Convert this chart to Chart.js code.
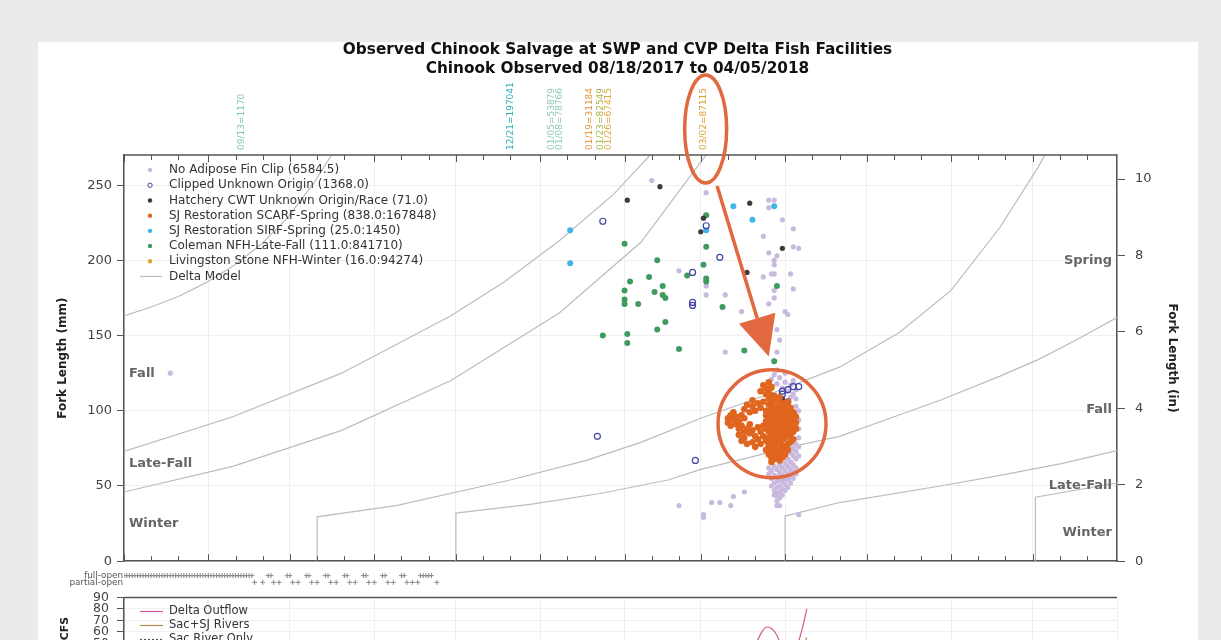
<!DOCTYPE html>
<html>
<head>
<meta charset="utf-8">
<script src="https://cdn.jsdelivr.net/npm/chart.js@4.4.1/dist/chart.umd.min.js"></script>
<style>
  html, body { margin: 0; padding: 0; width: 1221px; height: 640px; overflow: hidden; background: #ebebeb; }
  #card { position: absolute; left: 38px; top: 42px; width: 1160px; height: 700px; background: #ffffff; }
  canvas { position: absolute; left: 0; }
  #salvage { top: 0; }
  #gates { top: 566px; }
  #flows { top: 582px; }
</style>
</head>
<body>
<div id="card"></div>
<canvas id="salvage" width="1221" height="579"></canvas>
<canvas id="gates" width="1221" height="26"></canvas>
<canvas id="flows" width="1221" height="134"></canvas>
<script>
// x values are days since 08/01/2017; fork lengths in mm.
const FONT = "'DejaVu Sans', Verdana, sans-serif";
const monthStartDays = [0, 31, 61, 92, 122, 153, 184, 212, 243, 273, 304, 334, 365];
const forkLengthTicksMm = [0, 50, 100, 150, 200, 250];
const forkLengthTicksIn = [0, 2, 4, 6, 8, 10];
const flowTicks = [0, 10, 20, 30, 40, 50, 60, 70, 80, 90];

const seriesLabels = [
  "No Adipose Fin Clip (6584.5)",
  "Clipped Unknown Origin (1368.0)",
  "Hatchery CWT Unknown Origin/Race (71.0)",
  "SJ Restoration SCARF-Spring (838.0:167848)",
  "SJ Restoration SIRF-Spring (25.0:1450)",
  "Coleman NFH-Late-Fall (111.0:841710)",
  "Livingston Stone NFH-Winter (16.0:94274)",
  "Delta Model"
];
const seriesColors = ["#c9b9de", "#4444a6", "#3a3a3a", "#e0651e", "#3db6e6", "#3f9b60", "#e1a42a", "#bcbcbc"];

// [day, fork length mm]
const noAdiposeFinClip = [
  [17,125],
  [194,253],[214,245],[204,193],[214,183],[214,177],[221,177],[237,240],[239,240],[237,235],[242,227],
  [246,221],[235,216],[246,209],[248,208],[237,205],[240,203],[239,200],[239,197],[235,189],[238,191],
  [239,191],[245,191],[246,181],[239,180],[237,171],[239,175],[243,166],[244,164],[227,166],[221,139],
  [240,154],[241,147],[240,139],
  [204,37],[213,31],[213,29],[216,39],[219,39],[223,37],[224,43],[228,46],[240,43],[240,37],[241,37],[248,31],
  [238,121],[239,124],[240,118],[241,122],[242,115],[243,119],[244,113],[245,117],[246,111],[240,127],
  [243,125],[245,109],[247,114],[246,120],
  [237,62],[237,58],[238,60],[238,55],[238,50],[239,63],[239,57],[239,52],[239,47],[239,44],
  [240,61],[240,56],[240,53],[240,49],[240,45],[240,40],[241,64],[241,59],[241,54],[241,50],
  [241,46],[241,42],[242,62],[242,57],[242,53],[242,48],[242,44],[243,65],[243,60],[243,55],
  [243,51],[243,47],[244,68],[244,63],[244,58],[244,54],[244,49],[245,72],[245,66],[245,61],
  [245,56],[245,52],[246,75],[246,70],[246,64],[246,59],[246,55],[247,78],[247,73],[247,68],
  [247,62],[247,58],[247,108],[247,103],[248,100],[248,94],[248,88],[248,82],[248,76],[248,70]
];
const clippedUnknownOrigin = [
  [176,226],[214,223],[219,202],[209,192],[209,172],[209,170],[174,83],[210,67],
  [242,113],[244,114],[246,116],[248,116],[242,111],[244,106],[246,98]
];
const hatcheryCwtUnknown = [
  [185,240],[197,249],[213,228],[212,219],[230,238],[242,208],[229,192],[242,108]
];
const scarfSpring = [
  [222,95],[222,92],[223,97],[223,90],[224,94],[224,99],[225,91],[225,96],[226,88],[226,93],
  [227,97],[227,90],[228,95],[228,86],
  [226,84],[227,80],[228,82],[229,88],[229,78],[230,85],[230,91],[231,79],[231,87],[232,83],
  [232,76],[233,89],[233,81],[234,86],[234,78],[235,83],[235,90],
  [228,101],[229,104],[230,99],[231,103],[231,107],[232,100],[233,105],[234,102],[235,106],[236,100],
  [234,113],[235,117],[236,111],[236,115],[237,119],[237,112],[238,116],[238,110],
  [236,97],[236,93],[236,88],[236,80],[236,74],
  [237,108],[237,104],[237,99],[237,95],[237,91],[237,86],[237,82],[237,77],[237,71],
  [238,106],[238,101],[238,97],[238,92],[238,89],[238,84],[238,79],[238,75],[238,69],[238,66],
  [239,110],[239,103],[239,98],[239,94],[239,90],[239,87],[239,81],[239,76],[239,72],[239,68],
  [240,107],[240,102],[240,99],[240,95],[240,91],[240,85],[240,83],[240,78],[240,73],[240,70],
  [241,109],[241,104],[241,100],[241,96],[241,92],[241,88],[241,84],[241,80],[241,74],[241,67],
  [242,105],[242,101],[242,97],[242,93],[242,89],[242,86],[242,81],[242,77],[242,72],[242,69],
  [243,103],[243,99],[243,94],[243,90],[243,85],[243,82],[243,76],[243,71],
  [244,106],[244,100],[244,96],[244,91],[244,87],[244,83],[244,78],[244,74],
  [245,102],[245,97],[245,93],[245,89],[245,84],[245,79],
  [246,99],[246,95],[246,90],[246,86],[246,81],
  [247,96],[247,92],[247,88]
];
const sirfSpring = [
  [164,220],[164,198],[214,220],[224,236],[231,227],[239,236]
];
const colemanLateFall = [
  [184,211],[196,200],[186,186],[193,189],[198,183],[195,179],[198,177],[199,175],[184,180],[184,174],
  [184,171],[189,171],[176,150],[185,151],[185,145],[196,154],[199,159],[204,141],[214,230],[214,209],
  [213,197],[207,190],[214,188],[214,186],[220,169],[240,183],[228,140],[239,133]
];
const livingstonWinter = [
  [238,115]
];

// Delta Model size-at-date boundaries: [day, mm]
const modelResetDec1Early = [[0,163],[10,169],[20,176],[30,185],[40,196],[50,210],[60,228],[70,252],[78,275]];
const modelResetDec1Late = [[122,0],[122,32],[150,38],[175,45],[200,54],[212,61],[230,69],[245,76],[263,83],[280,94],[300,107],[322,123],[336,134],[350,147],[365,162]];
const modelResetApr1Early = [[0,73],[40,96],[80,125],[120,163],[140,186],[160,213],[180,244],[196,275]];
const modelResetApr1Late = [[243,0],[243,30],[263,39],[300,50],[322,57],[345,65],[365,73.5]];
const modelResetJul2Early = [[0,46],[40,63],[80,87],[120,120],[160,165],[190,212],[216,275]];
const modelResetJul2Late = [[335,0],[335,42.5],[365,52]];
const modelResetOct11 = [[71,0],[71,29.5],[100,37],[142,54],[170,67],[190,79],[212,95],[240,113],[263,129],[285,152],[304,180],[322,222],[336,262],[340,275]];

// Release markers above the plot
const releaseText = ["09/13=1170","12/21=197041","01/05=53879","01/08=78766","01/19=31184","01/23=82549","01/26=67415","03/02=87115"];
const releaseDay = [43, 142, 157, 160, 171, 175, 178, 213];
const releaseColor = ["#7cc5ad","#2faabf","#8ccab2","#8ccab2","#e3943f","#a9b545","#e2a63a","#dba02c"];

// Race labels [text, mm]
const raceLabelsLeft = [["Fall",125],["Late-Fall",65],["Winter",25]];
const raceLabelsRight = [["Spring",200],["Fall",100.5],["Late-Fall",50],["Winter",19]];

// Export gate operations (day of gate state)
const gateFullOpenDays = [0,1,2,3,4,5,6,7,8,9,10,11,12,13,14,15,16,17,18,19,20,21,22,23,24,25,26,27,28,29,30,31,32,33,34,35,36,37,38,39,40,41,42,43,44,45,46,47,
  53,54,60,61,67,68,74,75,81,82,88,89,95,96,102,103,109,110,111,112,113];
const gatePartialOpenDays = [48,51,55,57,62,64,69,71,76,78,83,85,90,92,97,99,104,106,108,115];

// Delta flows (1000 CFS)
const flowDays = [0,14,28,42,56,70,84,98,112,126,140,154,168,182,196,210,224,230,234,236,238,240,242,246,249,251];
const deltaOutflow = [8,7,9,10,9,11,12,14,16,21,26,23,19,17,15,14,19,38,58,64,63,57,46,41,60,80];
const sacSjRivers = [12,11,12,13,12,14,15,16,18,22,27,25,21,19,17,16,20,33,44,48,47,44,38,35,45,55];
const sacRiverOnly = [10,9,10,11,10,12,13,14,16,19,24,22,18,16,14,13,17,28,37,40,39,37,32,30,38,46];

const xy = arr => arr.map(p => ({ x: p[0], y: p[1] }));

function dotSet(idx, data, radius, order, extra) {
  return Object.assign({
    label: seriesLabels[idx],
    data: xy(data),
    backgroundColor: seriesColors[idx],
    borderColor: seriesColors[idx],
    borderWidth: 0,
    pointRadius: radius,
    pointHoverRadius: radius,
    showLine: false,
    order: order
  }, extra || {});
}
function modelSet(data) {
  return {
    label: "Delta Model",
    data: xy(data),
    showLine: true,
    borderColor: seriesColors[7],
    borderWidth: 1.2,
    pointRadius: 0,
    tension: 0,
    order: 20
  };
}

const salvageDatasets = [
  dotSet(3, scarfSpring, 3.3, 1),
  dotSet(6, livingstonWinter, 3, 2),
  dotSet(1, clippedUnknownOrigin, 3, 3, { backgroundColor: "rgba(255,255,255,0)", borderWidth: 1.2 }),
  dotSet(2, hatcheryCwtUnknown, 2.6, 4),
  dotSet(4, sirfSpring, 3, 5),
  dotSet(5, colemanLateFall, 3, 6),
  dotSet(0, noAdiposeFinClip, 2.6, 7),
  modelSet(modelResetDec1Early), modelSet(modelResetDec1Late),
  modelSet(modelResetApr1Early), modelSet(modelResetApr1Late),
  modelSet(modelResetJul2Early), modelSet(modelResetJul2Late),
  modelSet(modelResetOct11)
];

const legendOrder = [6, 2, 3, 0, 4, 5, 1]; // dataset index per legend row

const frameColor = "#555555";

const salvageDecor = {
  id: "salvageDecor",
  afterDatasetsDraw(chart) {
    const { ctx, chartArea: a, scales } = chart;
    const x = scales.x, y = scales.y;
    ctx.save();
    // top frame and minor ticks
    ctx.strokeStyle = frameColor;
    ctx.lineWidth = 1.5;
    ctx.beginPath();
    ctx.moveTo(a.left, a.top); ctx.lineTo(a.right, a.top);
    ctx.stroke();
    ctx.lineWidth = 1;
    for (let m = 0; m < monthStartDays.length - 1; m++) {
      [0, 10, 20].forEach(off => {
        const d = monthStartDays[m] + off;
        if (d >= monthStartDays[m + 1]) return;
        const px = Math.round(x.getPixelForValue(d)) + 0.5;
        const len = off === 0 ? 7 : 5;
        ctx.beginPath();
        ctx.moveTo(px, a.bottom); ctx.lineTo(px, a.bottom - len);
        ctx.moveTo(px, a.top); ctx.lineTo(px, a.top + len);
        ctx.stroke();
      });
    }
    // race labels
    ctx.font = "bold 13px " + FONT;
    ctx.fillStyle = "#666";
    ctx.textBaseline = "middle";
    ctx.textAlign = "left";
    raceLabelsLeft.forEach(r => ctx.fillText(r[0], a.left + 5, y.getPixelForValue(r[1])));
    ctx.textAlign = "right";
    raceLabelsRight.forEach(r => ctx.fillText(r[0], a.right - 5, y.getPixelForValue(r[1])));
    // legend
    ctx.font = "12px " + FONT;
    ctx.textAlign = "left";
    const rowH = 15.2;
    const mx = a.left + 26, tx = a.left + 45;
    legendOrder.forEach((di, row) => {
      const ds = chart.data.datasets[di];
      const cy = a.top + 15 + row * rowH;
      ctx.beginPath();
      ctx.arc(mx, cy, 2.2, 0, Math.PI * 2);
      if (ds.borderWidth > 0) {
        ctx.strokeStyle = ds.borderColor; ctx.lineWidth = 1; ctx.stroke();
      } else {
        ctx.fillStyle = ds.backgroundColor; ctx.fill();
      }
      ctx.fillStyle = "#333";
      ctx.fillText(ds.label, tx, cy);
    });
    const ly = a.top + 15 + 7 * rowH;
    ctx.strokeStyle = seriesColors[7];
    ctx.lineWidth = 1.2;
    ctx.beginPath(); ctx.moveTo(a.left + 16, ly); ctx.lineTo(a.left + 38, ly); ctx.stroke();
    ctx.fillStyle = "#333";
    ctx.fillText(seriesLabels[7], tx, ly);
    // release markers
    ctx.font = "9px " + FONT;
    releaseText.forEach((t, i) => {
      ctx.save();
      ctx.translate(x.getPixelForValue(releaseDay[i]) + 3, a.top - 5);
      ctx.rotate(-Math.PI / 2);
      ctx.fillStyle = releaseColor[i];
      ctx.textAlign = "left";
      ctx.textBaseline = "alphabetic";
      ctx.fillText(t, 0, 0);
      ctx.restore();
    });
    ctx.restore();
  },
  afterDraw(chart) {
    // highlight marks: ellipse on the 03/02 marker, arrow, circle round the spring cluster
    const { ctx, chartArea: a, scales } = chart;
    const x = scales.x, y = scales.y;
    ctx.save();
    ctx.strokeStyle = "#e2683f";
    ctx.fillStyle = "#e2683f";
    ctx.lineWidth = 3.5;
    const ex = x.getPixelForValue(213.8);
    ctx.beginPath();
    ctx.ellipse(ex, a.top - 26, 21, 54, 0, 0, Math.PI * 2);
    ctx.stroke();
    const sx = x.getPixelForValue(218), sy = a.top + 31;
    const tipX = x.getPixelForValue(237), tipY = y.getPixelForValue(136);
    const dx = tipX - sx, dy = tipY - sy, L = Math.hypot(dx, dy);
    const ux = dx / L, uy = dy / L;
    const headL = 40, headW = 19;
    const bx = tipX - ux * headL, by = tipY - uy * headL;
    ctx.beginPath(); ctx.moveTo(sx, sy); ctx.lineTo(bx, by); ctx.stroke();
    ctx.beginPath();
    ctx.moveTo(tipX, tipY);
    ctx.lineTo(bx - uy * headW, by + ux * headW);
    ctx.lineTo(bx + uy * headW, by - ux * headW);
    ctx.closePath(); ctx.fill();
    ctx.beginPath();
    ctx.arc(x.getPixelForValue(238.2), y.getPixelForValue(91.3), 54, 0, Math.PI * 2);
    ctx.stroke();
    ctx.restore();
  }
};

new Chart(document.getElementById("salvage"), {
  type: "scatter",
  data: { datasets: salvageDatasets },
  options: {
    responsive: false, animation: false, devicePixelRatio: 1,
    layout: { padding: { left: 53, right: 39, top: 0, bottom: 0 } },
    plugins: {
      legend: { display: false },
      tooltip: { enabled: false },
      title: {
        display: true,
        text: ["Observed Chinook Salvage at SWP and CVP Delta Fish Facilities", "Chinook Observed 08/18/2017 to 04/05/2018"],
        font: { family: FONT, size: 15.3, weight: "bold", lineHeight: 1.24 },
        color: "#111",
        padding: { top: 41, bottom: 76.1 }
      }
    },
    scales: {
      x: {
        type: "linear", min: 0, max: 365, position: "bottom",
        afterBuildTicks: s => { s.ticks = monthStartDays.map(v => ({ value: v })); },
        afterFit: s => { s.height = 5; },
        ticks: { display: false },
        grid: { color: "#efefef", drawTicks: false },
        border: { display: true, color: frameColor, width: 1.5 }
      },
      y: {
        type: "linear", min: 0, max: 270, position: "left",
        afterBuildTicks: s => { s.ticks = forkLengthTicksMm.map(v => ({ value: v })); },
        afterFit: s => { s.width = 71; },
        ticks: { font: { family: FONT, size: 13 }, color: "#444", padding: 5, autoSkip: false },
        grid: { color: "#efefef", tickColor: frameColor, tickLength: 7 },
        border: { display: true, color: frameColor, width: 1.5 },
        title: { display: true, text: "Fork Length (mm)", font: { family: FONT, size: 12, weight: "bold" }, color: "#222", padding: { top: 3, bottom: 0 } }
      },
      y2: {
        type: "linear", min: 0, max: 270 / 25.4, position: "right",
        afterBuildTicks: s => { s.ticks = forkLengthTicksIn.map(v => ({ value: v })); },
        afterFit: s => { s.width = 65; },
        ticks: { font: { family: FONT, size: 13 }, color: "#444", padding: 10, autoSkip: false },
        grid: { drawOnChartArea: false, tickColor: frameColor, tickLength: 8 },
        border: { display: true, color: frameColor, width: 1.5 },
        title: { display: true, text: "Fork Length (in)", font: { family: FONT, size: 12, weight: "bold" }, color: "#222", padding: { top: 3, bottom: 0 } }
      }
    }
  },
  plugins: [salvageDecor]
});

new Chart(document.getElementById("gates"), {
  type: "scatter",
  data: {
    datasets: [
      { label: "full-open", data: gateFullOpenDays.map(d => ({ x: d, y: 1 })), pointStyle: "cross", pointRadius: 2.5, borderColor: "#8a8a8a", borderWidth: 1 },
      { label: "partial-open", data: gatePartialOpenDays.map(d => ({ x: d, y: 0 })), pointStyle: "cross", pointRadius: 2.5, borderColor: "#8a8a8a", borderWidth: 1 }
    ]
  },
  options: {
    responsive: false, animation: false, devicePixelRatio: 1,
    layout: { padding: { left: 0, right: 104, top: 5, bottom: 5 } },
    plugins: { legend: { display: false }, tooltip: { enabled: false } },
    scales: {
      x: { type: "linear", min: 0, max: 365, display: false },
      y: {
        type: "linear", min: -0.5, max: 1.5,
        afterBuildTicks: s => { s.ticks = [{ value: 0 }, { value: 1 }]; },
        afterFit: s => { s.width = 124; },
        ticks: { font: { family: FONT, size: 8.8 }, color: "#555", padding: 1, autoSkip: false, callback: v => (v === 1 ? "full-open" : "partial-open") },
        grid: { display: false, drawTicks: false },
        border: { display: false }
      }
    }
  }
});

const flowLegend = {
  id: "flowLegend",
  afterDraw(chart) {
    const { ctx, chartArea: a } = chart;
    ctx.save();
    ctx.strokeStyle = frameColor; ctx.lineWidth = 1.5;
    ctx.beginPath(); ctx.moveTo(a.left, a.top); ctx.lineTo(a.right, a.top); ctx.stroke();
    ctx.font = "11.5px " + FONT;
    ctx.textBaseline = "middle";
    chart.data.datasets.forEach((ds, i) => {
      const cy = a.top + 14 + i * 14;
      ctx.strokeStyle = ds.borderColor; ctx.lineWidth = 1.2;
      ctx.setLineDash(ds.borderDash || []);
      ctx.beginPath(); ctx.moveTo(a.left + 16, cy); ctx.lineTo(a.left + 39, cy); ctx.stroke();
      ctx.setLineDash([]);
      ctx.fillStyle = "#333";
      ctx.fillText(ds.label, a.left + 45, cy);
    });
    ctx.restore();
  }
};

new Chart(document.getElementById("flows"), {
  type: "line",
  data: {
    datasets: [
      { label: "Delta Outflow", data: flowDays.map((d, i) => ({ x: d, y: deltaOutflow[i] })), borderColor: "#cf5a96", borderWidth: 1.2, pointRadius: 0, tension: 0.3 },
      { label: "Sac+SJ Rivers", data: flowDays.map((d, i) => ({ x: d, y: sacSjRivers[i] })), borderColor: "#b08a55", borderWidth: 1.2, pointRadius: 0, tension: 0.3 },
      { label: "Sac River Only", data: flowDays.map((d, i) => ({ x: d, y: sacRiverOnly[i] })), borderColor: "#555", borderDash: [2, 2], borderWidth: 1.2, pointRadius: 0, tension: 0.3 }
    ]
  },
  options: {
    responsive: false, animation: false, devicePixelRatio: 1,
    layout: { padding: { left: 55, right: 104, top: 7, bottom: 0 } },
    plugins: { legend: { display: false }, tooltip: { enabled: false } },
    scales: {
      x: {
        type: "linear", min: 0, max: 365,
        afterBuildTicks: s => { s.ticks = monthStartDays.map(v => ({ value: v })); },
        afterFit: s => { s.height = 9; },
        ticks: { display: false },
        grid: { color: "#efefef", drawTicks: false },
        border: { display: true, color: frameColor, width: 1.5 }
      },
      y: {
        type: "linear", min: 0, max: 90,
        afterBuildTicks: s => { s.ticks = flowTicks.map(v => ({ value: v })); },
        afterFit: s => { s.width = 69; },
        ticks: { font: { family: FONT, size: 12.5 }, color: "#444", padding: 8, autoSkip: false },
        grid: { color: "#efefef", tickColor: frameColor, tickLength: 7 },
        border: { display: true, color: frameColor, width: 1.5 },
        title: { display: true, text: "Flow KCFS", font: { family: FONT, size: 11, weight: "bold" }, color: "#222", padding: { top: 4, bottom: 0 } }
      }
    }
  },
  plugins: [flowLegend]
});
</script>
</body>
</html>
